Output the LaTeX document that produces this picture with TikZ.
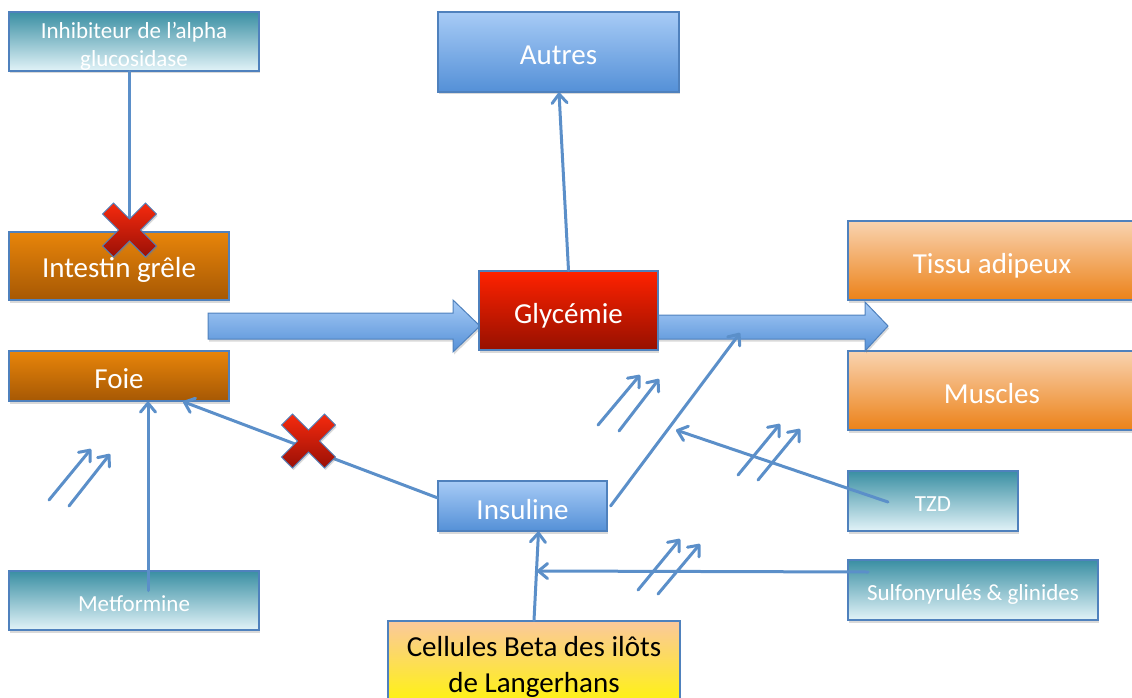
\documentclass[tikz,border=0pt]{standalone}
\usepackage{fontspec}
\setmainfont{Carlito}
\usetikzlibrary{arrows.meta,calc,shadows}
\definecolor{lineblue}{HTML}{5B8FC9}
\definecolor{edgeblue}{HTML}{4F81BD}
\definecolor{tealtop}{HTML}{3A8FA3}
\definecolor{tealbot}{HTML}{E2F3F8}
\definecolor{bluetop}{HTML}{A7CBF6}
\definecolor{bluebot}{HTML}{5490D7}
\definecolor{dotop}{HTML}{E8850A}
\definecolor{dobot}{HTML}{A65804}
\definecolor{redtop}{HTML}{FF2200}
\definecolor{redbot}{HTML}{961000}
\definecolor{lotop}{HTML}{F9D3B0}
\definecolor{lobot}{HTML}{EC8219}
\definecolor{celltop}{HTML}{FBC89C}
\definecolor{cellbot}{HTML}{FFF800}
\definecolor{xtop}{HTML}{F52A0E}
\definecolor{xbot}{HTML}{9A1006}
\newcommand\lowered[2][4pt]{\raisebox{-#1}[\height][\depth]{#2}}
\newcommand\twolines[2]{\begin{tabular}{@{}c@{}}#1\\#2\end{tabular}}
\tikzset{
  box/.style={draw=edgeblue, line width=1.2pt, inner sep=0pt, align=center, text=white,
    drop shadow={shadow xshift=1pt,shadow yshift=-2.5pt,opacity=0.3}},
  bigtxt/.style={font=\fontsize{29}{36}\selectfont},
  smalltxt/.style={font=\fontsize{23}{28}\selectfont},
  tealbox/.style={box, smalltxt, top color=tealtop, bottom color=tealbot},
  bluebox/.style={box, bigtxt, top color=bluetop, bottom color=bluebot},
  darkorbox/.style={box, bigtxt, top color=dotop, bottom color=dobot},
  lightorbox/.style={box, bigtxt, top color=lotop, bottom color=lobot},
  glycbox/.style={box, bigtxt, top color=redtop, bottom color=redbot},
  cellbox/.style={box, bigtxt, text=black, top color=celltop, bottom color=cellbot},
  conn/.style={draw=lineblue, line width=3pt, line cap=round},
  arr/.style={conn, -{Straight Barb[length=9pt,width=15pt,round]}},
  bigarrow/.style={top color=bluetop, bottom color=bluebot, draw=edgeblue, line width=1pt,
    drop shadow={shadow xshift=1pt,shadow yshift=-2.5pt,opacity=0.3}},
  crossmark/.style={top color=xtop, bottom color=xbot, draw=edgeblue, line width=0.8pt,
    drop shadow={shadow xshift=1pt,shadow yshift=-2pt,opacity=0.3}},
}
\newcommand\drawcross[1]{%
  \shade[crossmark, shift={(#1)}] (-27,-16) -- (-16,-27) -- (0,-11) -- (16,-27) -- (27,-16) -- (11,0)
     -- (27,16) -- (16,27) -- (0,11) -- (-16,27) -- (-27,16) -- (-11,0) -- cycle;}
\begin{document}
\begin{tikzpicture}[x=1pt,y=-1pt]
\useasboundingbox (0,0) rectangle (1132,698);
% right-hand target boxes (under the big arrow head)
\node[lightorbox, minimum width=288pt, minimum height=79pt] (tissu) at (992,260.5) {\lowered[5pt]{Tissu adipeux}};
\node[lightorbox, minimum width=288pt, minimum height=79pt] (muscles) at (992,390.5) {\lowered[3pt]{Muscles}};
% block arrows
\shade[bigarrow] (208,313) -- (453,313) -- (453,300) -- (480,326) -- (453,352) -- (453,339) -- (208,339) -- cycle;
\shade[bigarrow] (640,315) -- (865,315) -- (865,302) -- (888,326) -- (865,351) -- (865,339) -- (640,339) -- cycle;
% boxes
\node[tealbox, minimum width=250pt, minimum height=59pt] (inh) at (134,41.5) {\lowered[5pt]{\twolines{Inhibiteur de l’alpha}{glucosidase}}};
\node[bluebox, minimum width=241pt, minimum height=80pt] (autres) at (558.5,52) {\lowered[3pt]{Autres}};
\node[darkorbox, minimum width=220pt, minimum height=68pt] (intestin) at (119,266) {\lowered[4pt]{Intestin grêle}};
\node[darkorbox, minimum width=220pt, minimum height=50pt] (foie) at (119,376) {\lowered[3pt]{Foie}};
\node[glycbox, minimum width=179pt, minimum height=79pt] (glyc) at (568.5,310.5) {\lowered[5pt]{Glycémie}};
\node[bluebox, minimum width=169pt, minimum height=50pt] (insul) at (522.5,506) {\lowered[4pt]{Insuline}};
\node[tealbox, minimum width=170pt, minimum height=60pt] (tzd) at (933,501) {\lowered[3pt]{TZD}};
\node[tealbox, minimum width=250pt, minimum height=60pt] (sulf) at (973,590) {\lowered[4pt]{Sulfonyrulés \& glinides}};
\node[tealbox, minimum width=250pt, minimum height=59pt] (metf) at (134,600.5) {\lowered[3pt]{Metformine}};
\node[cellbox, minimum width=292pt, minimum height=91pt] (cell) at (534,666.5) {Cellules Beta des ilôts\\de Langerhans};
% connectors
\coordinate (onglyc) at (740,333);
\coordinate (oninsline) at (676,430);
\coordinate (oncellline) at (537,571);
\draw[conn] ($(inh.south)+(-5,0)$) -- ($(intestin.north)+(10,0)$);
\draw[arr] (glyc.north) -- ($(autres.south)+(0.5,0)$);
\draw[arr] ($(insul.north west)!0.34!(insul.south west)$) -- ($(foie.south)+(64,0)$);
\draw[arr] ($(metf.center)+(14,-10)$) -- ($(foie.south)+(29,0)$);
\draw[arr] ($(insul.east)+(3,0)$) -- (onglyc);
\draw[arr] ($(tzd.center)+(-45,1)$) -- (oninsline);
\draw[arr] ($(sulf.center)+(-105,-18)$) -- (oncellline);
\draw[arr] (cell.north) -- ($(insul.south)+(16,0)$);
% increase marks
\draw[arr] (49,500) -- (91,449);
\draw[arr] (69,506) -- (110,454);
\draw[arr] (598,425) -- (640,375);
\draw[arr] (619,431) -- (659,379);
\draw[arr] (738,475) -- (780,424);
\draw[arr] (758,480) -- (800,429);
\draw[arr] (638,590) -- (680,539);
\draw[arr] (658,594) -- (700,544);
% crosses
\drawcross{129.5,230}
\drawcross{308.5,441}
\end{tikzpicture}
\end{document}
